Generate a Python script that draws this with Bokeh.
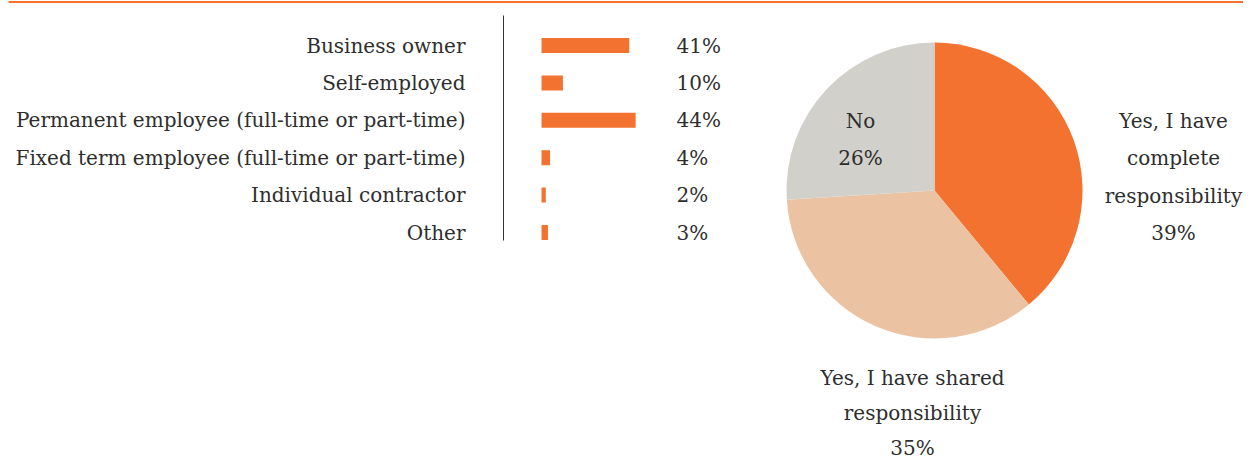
import numpy as np
from bokeh.plotting import figure
from bokeh.models import Range1d
from bokeh.core.properties import value
from bokeh.embed import file_html
from bokeh.resources import INLINE

# ---- data ----
categories = ["Business owner", "Self-employed", "Permanent employee (full-time or part-time)",
              "Fixed term employee (full-time or part-time)", "Individual contractor", "Other"]
shares = [41, 10, 44, 4, 2, 3]
share_labels = ["41%", "10%", "44%", "4%", "2%", "3%"]

pie_names = ["Yes, I have complete responsibility", "Yes, I have shared responsibility", "No"]
pie_values = [39, 35, 26]
pie_label_lines = [["Yes, I have", "complete", "responsibility", "39%"],
                   ["Yes, I have shared", "responsibility", "35%"],
                   ["No", "26%"]]

# ---- styling ----
ORANGE = "#F37230"
PIE_COLORS = ["#F37230", "#EBC3A3", "#D1D0CB"]
TEXT = "#2e2e2e"
FONT = value("DejaVu Serif")
FS = "20px"

W, H = 1243, 463
p = figure(width=W, height=H, output_backend="svg", toolbar_location=None,
           x_range=Range1d(0, W), y_range=Range1d(0, H), min_border=0)
p.axis.visible = False
p.grid.visible = False
p.outline_line_color = None
p.background_fill_color = "white"

def Y(yref):
    return H - yref

def X(xref):
    return xref

# top rule
p.segment(x0=[X(8)], y0=[Y(1.5)], x1=[X(1243)], y1=[Y(1.5)], line_color=ORANGE, line_width=2)

# bar section
row_y = [Y(45 + i * 37.4) for i in range(len(categories))]
bar_left = X(541)
px_per_pct = 2.14
p.hbar(y=row_y, left=bar_left, right=[bar_left + v * px_per_pct for v in shares], height=15,
       fill_color=ORANGE, line_color=None)
p.segment(x0=[X(503)], y0=[Y(15)], x1=[X(503)], y1=[Y(240)], line_color="#333333", line_width=1)
p.text(x=[X(465)] * len(categories), y=row_y, text=categories, text_align="right",
       text_baseline="middle", text_font=FONT, text_font_size=FS, text_color=TEXT)
p.text(x=[X(676)] * len(categories), y=row_y, text=share_labels, text_align="left",
       text_baseline="middle", text_font=FONT, text_font_size=FS, text_color=TEXT)

# pie
cx, cy, r = X(934), Y(190), 148
frac = np.array(pie_values, dtype=float) / sum(pie_values)
cum = np.concatenate([[0], np.cumsum(frac)])
starts = np.pi / 2 - 2 * np.pi * cum[:-1]
ends = np.pi / 2 - 2 * np.pi * cum[1:]
p.wedge(x=[cx] * 3, y=[cy] * 3, radius=r, start_angle=list(starts), end_angle=list(ends),
        direction="clock", fill_color=PIE_COLORS, line_color=None)

label_pos = [(1173, 120, 37.5), (912, 377, 35.0), (860, 120, 37.5)]
for lines, (lx, ly, step) in zip(pie_label_lines, label_pos):
    p.text(x=[X(lx)] * len(lines), y=[Y(ly + i * step) for i in range(len(lines))], text=lines,
           text_align="center", text_baseline="middle", text_font=FONT, text_font_size=FS,
           text_color=TEXT)

open("out.html", "w").write(file_html(p, INLINE))
